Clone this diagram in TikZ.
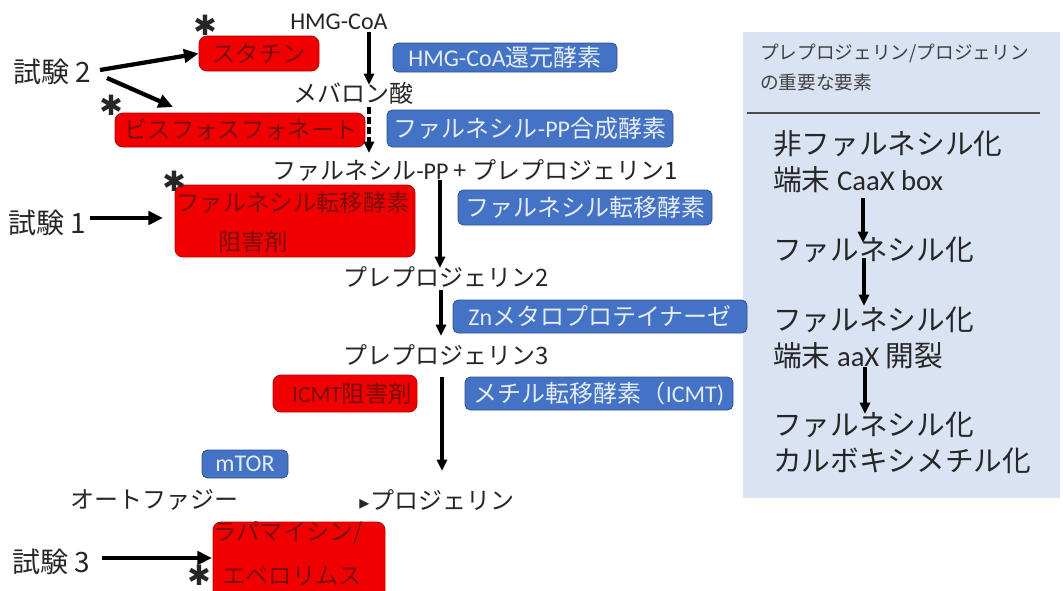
\documentclass[tikz,border=0pt]{standalone}
\usepackage{fontspec}
\setmainfont{Noto Sans CJK JP}
\newfontfamily\lat{Carlito}
\newfontfamily\dv{DejaVu Sans}
\usetikzlibrary{arrows.meta}
\definecolor{bluebox}{HTML}{4472C4}
\definecolor{blueedge}{HTML}{2F528F}
\definecolor{bluetext}{HTML}{E4ECF8}
\definecolor{redbox}{HTML}{F00000}
\definecolor{rededge}{HTML}{B00000}
\definecolor{redtext}{HTML}{7A0E0E}
\definecolor{panel}{HTML}{DAE3F3}
\definecolor{ink}{HTML}{262626}
\tikzset{
  txt/.style={inner sep=0pt, anchor=west, text=ink, font=\fontsize{18}{21}\selectfont},
  trialtxt/.style={txt, font=\fontsize{21}{25}\selectfont},
  ptitle/.style={txt, text=black!75, font=\fontsize{14}{16}\selectfont},
  pitem/.style={txt, align=left, font=\fontsize{21.5}{27}\selectfont},
  bbox/.style={draw=blueedge, fill=bluebox, rounded corners=4pt, text=bluetext,
    inner sep=0pt, font=\fontsize{18}{21}\selectfont, line width=0.6pt},
  rbox/.style={draw=rededge, fill=redbox, rounded corners=6pt, inner sep=0pt, line width=0.6pt},
  rtxt/.style={inner sep=0pt, text=redtext, font=\fontsize{17.5}{21}\selectfont},
  flow/.style={line width=2.6pt, -{Triangle[length=8.5pt,width=7.5pt]}},
  trial/.style={line width=3.2pt, -{Triangle[length=11pt,width=10pt]}},
  star/.style={inner sep=0pt, text=ink, font=\dv\bfseries\fontsize{21}{21}\selectfont}
}
\begin{document}
\begin{tikzpicture}[x=0.75pt,y=-0.75pt]
\useasboundingbox (0,0) rectangle (1063,590);
% right panel
\fill[panel] (743,32) rectangle (1060,498);
\draw[black!70, line width=0.8pt] (747,113) -- (1040,113);
\node[ptitle] (pt1) at (760,53) {プレプロジェリン/プロジェリン};
\node[ptitle] (pt2) at (760,82) {の重要な要素};
\node[pitem] (p1) at (773,161.5) {非ファルネシル化\\端末 {\lat CaaX box}};
\node[pitem] (p2) at (773,250) {ファルネシル化};
\node[pitem] (p3) at (773,337.5) {ファルネシル化\\端末 {\lat aaX} 開裂};
\node[pitem] (p4) at (773,442.5) {ファルネシル化\\カルボキシメチル化};
\coordinate (q1s) at (863,198); \coordinate (q1e) at (863,243);
\coordinate (q2s) at (864,258); \coordinate (q2e) at (864,306);
\coordinate (q3s) at (865,367); \coordinate (q3e) at (865,414);
\draw[flow] (q1s) -- (q1e);
\draw[flow] (q2s) -- (q2e);
\draw[flow] (q3s) -- (q3e);

% red inhibitor boxes
\node[rbox, minimum width=90pt, minimum height=26.25pt] (statin) at (259,53.5) {};
\node[rtxt] (statint) at (259,53.5) {スタチン};
\node[rbox, minimum width=187.5pt, minimum height=25.5pt] (bis) at (240,130) {};
\node[rtxt] (bist) at (241,130) {ビスフォスフォネート};
\node[rbox, minimum width=180pt, minimum height=54pt] (fti) at (295,221) {};
\node[rtxt] (fti1) at (293,203) {ファルネシル転移酵素};
\node[rtxt] (fti2) at (253,242) {阻害剤};
\node[rbox, minimum width=108pt, minimum height=27.75pt] (icmti) at (345,393.5) {};
\node[rtxt] (icmtit) at (352,393.5) {{\lat ICMT}阻害剤};
\node[rbox, minimum width=129pt, minimum height=58.5pt] (rapa) at (299,561) {};
\node[rtxt] (rapa1) at (288,533) {ラパマイシン/};
\node[rtxt] (rapa2) at (292,576) {エベロリムス};

% blue enzyme boxes
\node[bbox, minimum width=168pt, minimum height=21.75pt] (hmgr) at (505,57.5) {{\lat HMG-CoA}還元酵素};
\node[bbox, minimum width=214.5pt, minimum height=27.75pt] (fpps) at (530,128.5) {ファルネシル{\lat -PP}合成酵素};
\node[bbox, minimum width=190.5pt, minimum height=26.25pt] (ftase) at (585,207.5) {ファルネシル転移酵素};
\node[bbox, minimum width=220.5pt, minimum height=24.75pt] (zn) at (600,316.5) {{\lat Zn}メタロプロテイナーゼ};
\node[bbox, minimum width=201pt, minimum height=24.75pt] (icmt) at (599,393.5) {メチル転移酵素（{\lat ICMT)}};
\node[bbox, minimum width=64.5pt, minimum height=21pt] (mtor) at (245,464) {{\lat mTOR}};

% pathway texts
\node[txt, font=\lat\fontsize{18}{21}\selectfont] (hmg) at (290,22) {HMG-CoA};
\node[txt] (meva) at (293,93) {メバロン酸};
\node[txt] (fpp) at (272,170) {ファルネシル{\lat -PP} + プレプロジェリン1};
\node[txt] (pp2) at (343,277) {プレプロジェリン2};
\node[txt] (pp3) at (343,355) {プレプロジェリン3};
\node[txt] (auto) at (70,500) {オートファジー};
\node[txt] (prog) at (359,500) {{\dv\fontsize{15}{15}\selectfont ▸}\hspace{1pt}プロジェリン};

% pathway arrows
\coordinate (a1s) at (369,32); \coordinate (a1e) at (369,85);
\coordinate (a2s) at (369,107); \coordinate (a2e) at (369,153);
\coordinate (a3s) at (440,180); \coordinate (a3e) at (440,268);
\coordinate (a4s) at (441,290); \coordinate (a4e) at (441,336);
\coordinate (a5s) at (442,377); \coordinate (a5e) at (442,471);
\draw[flow] (a1s) -- (a1e);
\draw[flow, dash pattern=on 5pt off 2.5pt] (a2s) -- (a2e);
\draw[flow] (a3s) -- (a3e);
\draw[flow] (a4s) -- (a4e);
\draw[flow] (a5s) -- (a5e);

% trials
\node[trialtxt] (t2) at (13,72) {試験 2};
\node[trialtxt] (t1) at (8,223) {試験 1};
\node[trialtxt] (t3) at (12,562) {試験 3};
\coordinate (t2s) at (100,70);
\coordinate (t2b) at (107,78);
\coordinate (bisin) at (173,107);
\coordinate (t1s) at (90,218);
\coordinate (t1e) at (163,218);
\coordinate (t3s) at (102,558);
\coordinate (t3e) at (212,558);
\draw[trial] (t2s) -- (statin.west);
\draw[trial] (t2b) -- (bisin);
\draw[trial] (t1s) -- (t1e);
\draw[trial] (t3s) -- (t3e);

% stars
\node[star] (s1) at (205,25) {✱};
\node[star] (s2) at (111,105) {✱};
\node[star] (s3) at (174,181) {✱};
\node[star] (s4) at (199,575) {✱};
\end{tikzpicture}
\end{document}
